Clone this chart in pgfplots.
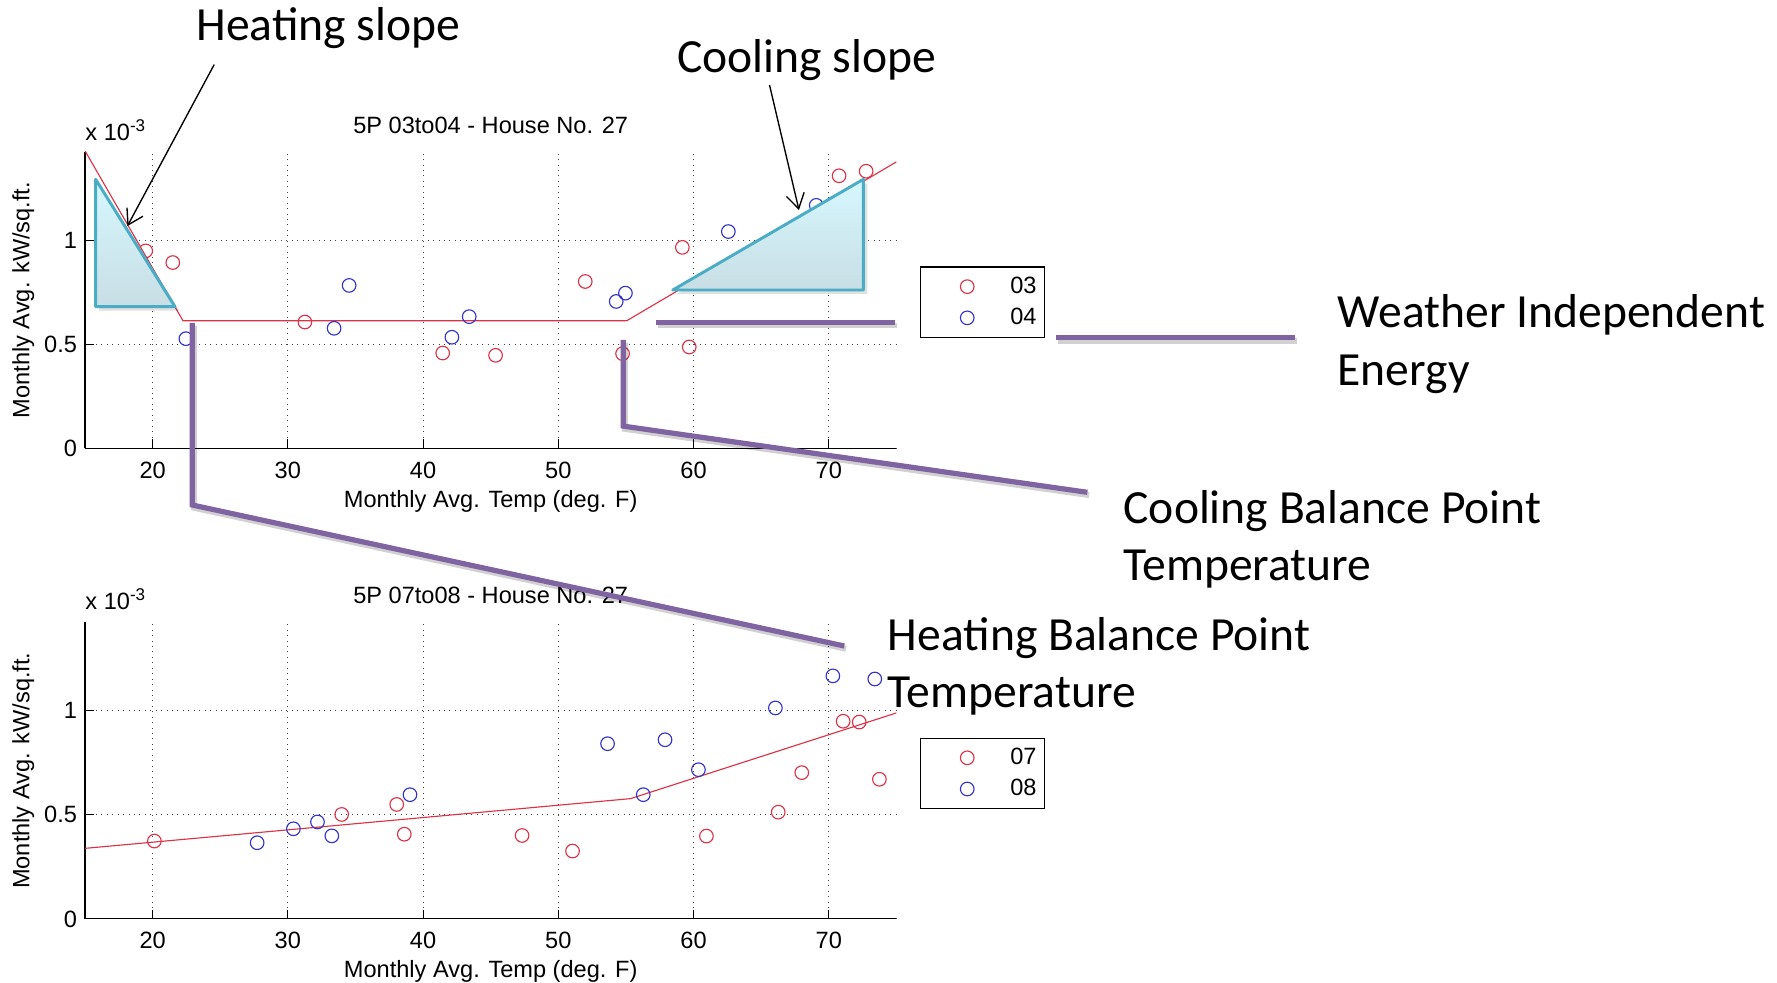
\documentclass[border=0pt]{standalone}
\usepackage{fontspec}
\setmainfont{Liberation Sans}
\newfontfamily\calibri{Carlito}
\usepackage{pgfplots}
\pgfplotsset{compat=1.18}
\usetikzlibrary{arrows.meta}

\definecolor{mred}{RGB}{220,50,70}
\definecolor{mblue}{RGB}{50,50,205}
\definecolor{annpurple}{RGB}{128,100,162}
\definecolor{tricyan}{RGB}{75,172,198}
\definecolor{tritop}{RGB}{214,247,255}
\definecolor{trimid}{RGB}{160,228,248}
\definecolor{tribot}{RGB}{200,222,228}

\newcommand{\mfont}{\fontsize{10.4}{12}\selectfont}
\newcommand{\afont}{\calibri\fontsize{21}{25.5}\selectfont}

\pgfplotsset{
  mstyle/.style={
    scale only axis, width=358pt, height=130.8pt,
    xmin=15, xmax=75, ymin=0, ymax=1.425,
    axis x line*=bottom, axis y line*=left,
    axis line style={black, line width=0.5pt, -},
    xtick={20,30,40,50,60,70}, ytick={0,0.5,1},
    tick align=inside, major tick length=4pt,
    tick style={black, line width=0.5pt},
    grid=major, grid style={black!75, dotted, line width=0.5pt},
    ticklabel style={font=\mfont},
    xticklabel style={yshift=-2.3pt},
    /pgf/number format/assume math mode=true,
    every axis title/.style={at={(0.5,1)}, anchor=base, yshift=8.15pt, inner sep=0pt, font=\mfont},
    every axis x label/.style={at={(0.5,0)}, anchor=base, yshift=-26pt, inner sep=0pt, font=\mfont},
    every axis y label/.style={at={(-0.0686,0.5)}, rotate=90, anchor=base, inner sep=0pt, font=\mfont},
    ylabel={Monthly Avg. kW/sq.ft.},
    xlabel={Monthly Avg. Temp (deg. F)},
    legend style={draw=black, line width=0.5pt, fill=white, anchor=north west,
      inner xsep=3.5pt, inner ysep=2.8pt, font=\mfont,
      nodes={inner xsep=0pt, inner ysep=1.5pt}, row sep=2pt, column sep=6pt},
    legend cell align=left,
    legend image code/.code={%
      \path[draw=none] (0pt,0pt) -- (30pt,0pt);
      \draw[mark repeat=1] plot coordinates {(17pt,0pt)};},
  },
  scat/.style={only marks, mark=o, mark size=3pt, line width=0.5pt},
}

\begin{document}
\begin{tikzpicture}
\path[use as bounding box] (0pt,0pt) rectangle (784pt,-433.5pt);

% ---------- top axis ----------
\begin{axis}[mstyle, at={(37.5pt,-197.8pt)}, anchor=south west,
  title={5P 03to04 - House No. 27},
  legend style={at={(1.0293,0.6137)}}]
\addplot[scat, mred] coordinates {
(19.49,0.949) (21.49,0.893) (31.26,0.607) (41.45,0.458) (45.36,0.447)
(51.99,0.802) (54.75,0.455) (59.17,0.966) (59.68,0.487) (70.76,1.310) (72.76,1.332)};
\addplot[scat, mblue] coordinates {
(22.46,0.527) (33.42,0.577) (34.53,0.783) (42.13,0.534) (43.41,0.633)
(54.28,0.706) (54.96,0.746) (62.57,1.042) (66.31,0.909) (69.07,1.168)};
\addplot[mred, line width=0.5pt, no marks, forget plot] coordinates {
(15,1.43) (22.25,0.613) (55.05,0.613) (75,1.377)};
\legend{03,04}
\end{axis}

% ---------- bottom axis ----------
\begin{axis}[mstyle, at={(37.5pt,-405.4pt)}, anchor=south west,
  title={5P 07to08 - House No. 27},
  legend style={at={(1.0293,0.6116)}}]
\addplot[scat, mred] coordinates {
(20.13,0.374) (33.98,0.502) (38.05,0.550) (38.61,0.407) (47.32,0.401) (51.05,0.326)
(60.95,0.398) (66.26,0.513) (68.0,0.703) (71.06,0.950) (72.25,0.946) (73.74,0.671)};
\addplot[scat, mblue] coordinates {
(27.73,0.366) (30.41,0.433) (32.19,0.466) (33.25,0.399) (39.03,0.597) (53.64,0.842)
(56.28,0.597) (57.89,0.861) (60.36,0.717) (66.05,1.014) (70.3,1.168) (73.4,1.153)};
\addplot[mred, line width=0.5pt, no marks, forget plot] coordinates {
(15,0.339) (55.34,0.578) (75,0.99)};
\legend{07,08}
\end{axis}

% ---------- annotations ----------
\begin{scope}[x=0.5pt, y=-0.5pt]
  % scale notes
  \node[anchor=base west, inner sep=0pt, font=\mfont] at (75,124) {x 10\raisebox{0.7ex}{\fontsize{7.5}{8}\selectfont -3}};
  \node[anchor=base west, inner sep=0pt, font=\mfont] at (75,538) {x 10\raisebox{0.7ex}{\fontsize{7.5}{8}\selectfont -3}};

  % heating triangle
  \fill[black, opacity=0.12] (87.4,161.2) -- (87.4,274.1) -- (158.4,274.1) -- cycle;
  \shade[top color=tritop, middle color=trimid, bottom color=tribot]
    (84.4,158.2) -- (84.4,270.6) -- (154.4,270.6) -- cycle;
  \draw[tricyan, line width=1.3pt, line join=round]
    (84.4,158.2) -- (84.4,270.6) -- (154.4,270.6) -- cycle;
  % cooling triangle
  \fill[black, opacity=0.12] (597,259.4) -- (765.3,259.4) -- (765.3,161.5) -- cycle;
  \shade[top color=tritop, middle color=trimid, bottom color=tribot]
    (593.6,255.9) -- (761.8,255.9) -- (761.8,158.2) -- cycle;
  \draw[tricyan, line width=1.3pt, line join=round]
    (593.6,255.9) -- (761.8,255.9) -- (761.8,158.2) -- cycle;

  % arrows
  \draw[black, line width=0.6pt, -{Straight Barb[length=6.5pt,width=8pt]}] (189,57) -- (112.4,199.5);
  \draw[black, line width=0.6pt, -{Straight Barb[length=6.5pt,width=8pt]}] (679,75) -- (705,185.3);

  % purple connector lines (shadow then line)
  \begin{scope}[black, opacity=0.18, line width=2.6pt, shift={(1.5,2.5)}]
    \draw (579,284.7) -- (790,284.7);
    \draw (932,298) -- (1143,298);
    \draw (550,300) -- (550,376) -- (959.5,434.4);
    \draw (169.7,285) -- (169.7,445.6) -- (745,570);
  \end{scope}
  \begin{scope}[annpurple, line width=2.3pt]
    \draw (579,284.7) -- (790,284.7);
    \draw (932,298) -- (1143,298);
    \draw (550,300) -- (550,376) -- (959.5,434.4);
    \draw (169.7,285) -- (169.7,445.6) -- (745,570);
  \end{scope}

  % annotation texts
  \node[anchor=base west, inner sep=0pt, font=\afont] at (173,36) {Heating slope};
  \node[anchor=base west, inner sep=0pt, font=\afont] at (597,64) {Cooling slope};
  \node[anchor=base west, inner sep=0pt, font=\afont] at (1180,289) {Weather Independent};
  \node[anchor=base west, inner sep=0pt, font=\afont] at (1180,340) {Energy};
  \node[anchor=base west, inner sep=0pt, font=\afont] at (991,462) {Cooling Balance Point};
  \node[anchor=base west, inner sep=0pt, font=\afont] at (991,512) {Temperature};
  \node[anchor=base west, inner sep=0pt, font=\afont] at (783,574) {Heating Balance Point};
  \node[anchor=base west, inner sep=0pt, font=\afont] at (783,624) {Temperature};
\end{scope}
\end{tikzpicture}
\end{document}
